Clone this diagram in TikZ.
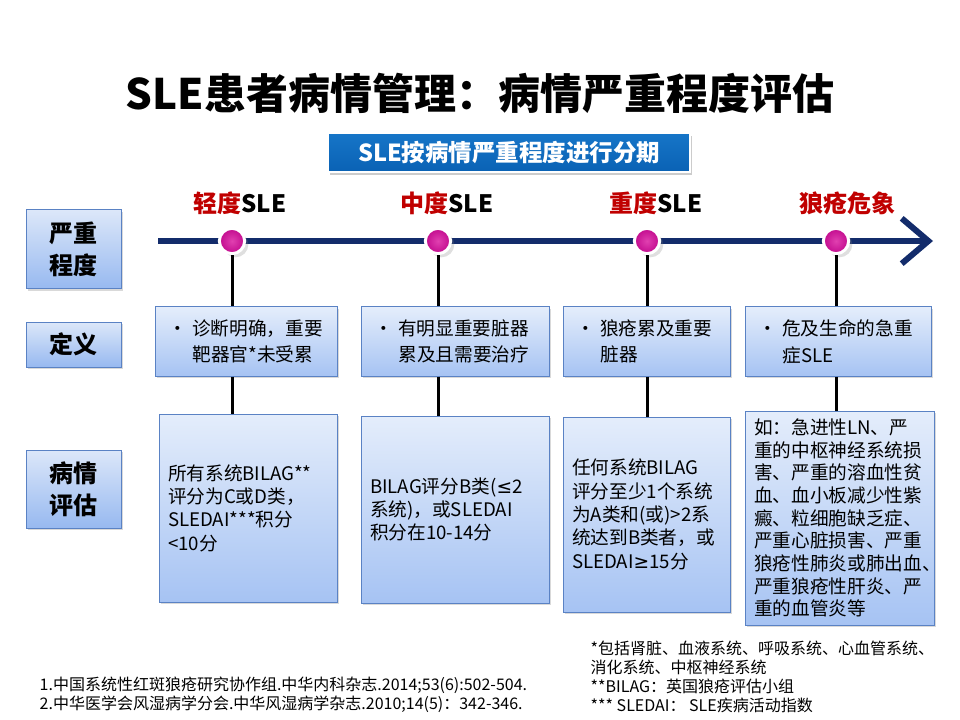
\documentclass[tikz,border=0pt]{standalone}
\usepackage{fontspec}
\setmainfont{Noto Sans CJK SC}
\newfontfamily\symfont{DejaVu Sans}
\usetikzlibrary{arrows.meta, shadows}

\definecolor{navy}{HTML}{132C6B}
\definecolor{sred}{HTML}{C00000}
\definecolor{dotpink}{HTML}{C20A8E}
\definecolor{dotlight}{HTML}{E040B0}
\definecolor{boxedge}{HTML}{5A82C4}
\definecolor{boxtop}{HTML}{E4EDFB}
\definecolor{boxbot}{HTML}{A6C3F3}
\definecolor{headtop}{HTML}{DCE7F9}
\definecolor{headbot}{HTML}{97B9F0}
\definecolor{subtop}{HTML}{1675C8}
\definecolor{subbot}{HTML}{0A62B4}

\begin{document}
\begin{tikzpicture}[
    x=0.75pt, y=-0.75pt, % one unit = one pixel of the slide
    shade/.style={drop shadow={shadow xshift=1.5pt, shadow yshift=-1.5pt, opacity=0.3}},
    rowhead/.style={draw=boxedge, line width=0.75pt, top color=headtop, bottom color=headbot,
      shade, minimum width=71.25pt, align=center, font=\fontsize{18}{24}\selectfont\bfseries}, % Style for row labels
    defbox/.style={draw=boxedge, line width=0.75pt, top color=boxtop, bottom color=boxbot,
      shade, text width=#1, minimum height=51.75pt, inner xsep=10pt, align=left,
      font=\fontsize{14}{20}\selectfont}, % Style for definition boxes
    evalbox/.style={draw=boxedge, line width=0.75pt, top color=boxtop, bottom color=boxbot,
      shade, text width=#1, inner xsep=6.75pt, inner ysep=2pt, align=left,
      font=\fontsize{14}{17.5}\selectfont}, % Style for assessment boxes
    stage/.style={font=\fontsize{18}{22}\selectfont\bfseries}, % Style for stage labels
    dot/.style={circle, minimum size=19pt, inner sep=0pt, draw=white, line width=2.25pt,
      inner color=dotlight, outer color=dotpink, drop shadow={opacity=0.25}},
    link/.style={line width=2.25pt},
    note/.style={align=left, font=\fontsize{12}{14}\selectfont}
  ]
    \useasboundingbox (0,0) rectangle (960,720);

    % Define nodes
    \node (T) at (480,93) {\fontsize{31.5}{36}\selectfont\bfseries SLE患者病情管理：病情严重程度评估};
    \node (ST) at (509,152.5) [top color=subtop, bottom color=subbot, draw=white, line width=2pt,
      minimum width=271.5pt, minimum height=29.25pt, text=white, font=\fontsize{17.6}{20}\selectfont\bfseries,
      drop shadow={shadow xshift=1.5pt, shadow yshift=-2pt, opacity=0.4}] {SLE按病情严重程度进行分期};

    \node (H1) at (73.5,249.5) [rowhead, minimum height=59.25pt] {严重\\程度};
    \node (H2) at (73.5,344.5) [rowhead, minimum height=33.75pt] {定义};
    \node (H3) at (73.5,489)   [rowhead, minimum height=58.5pt]  {病情\\评估};

    \node (S1) at (240,203) [stage] {\textcolor{sred}{轻度}SLE};
    \node (S2) at (447,203) [stage] {\textcolor{sred}{中度}SLE};
    \node (S3) at (656,203) [stage] {\textcolor{sred}{重度}SLE};
    \node (S4) at (847,203) [stage] {\textcolor{sred}{狼疮危象}};

    \coordinate (AS) at (158,241);
    \coordinate (AE) at (933,241);

    \node (D1) at (246,341.5)   [defbox=116.5pt] {\makebox[18pt][l]{•}诊断明确，重要\\\hspace*{18pt}靶器官*未受累};
    \node (D2) at (455,341.5)   [defbox=121pt]   {\makebox[18pt][l]{•}有明显重要脏器\\\hspace*{18pt}累及且需要治疗};
    \node (D3) at (646.5,341.5) [defbox=105.25pt]{\makebox[18pt][l]{•}狼疮累及重要\\\hspace*{18pt}脏器};
    \node (D4) at (838,341.5)   [defbox=119.5pt] {\makebox[18pt][l]{•}危及生命的急重\\\hspace*{18pt}症SLE};

    \node (E1) at (248,508)     [evalbox=120pt, minimum height=141pt]
      {所有系统BILAG**\\评分为C或D类，\\SLEDAI***积分\\<10分};
    \node (E2) at (455,509.5)   [evalbox=127.5pt, minimum height=140.25pt]
      {BILAG评分B类({\symfont ≤}2\\系统)，或SLEDAI\\积分在10-14分};
    \node (E3) at (646.5,514.5) [evalbox=111.75pt, minimum height=146.25pt]
      {任何系统BILAG\\评分至少1个系统\\为A类和(或)>2系\\统达到B类者，或\\SLEDAI{\symfont ≥}15分};
    \node (E4) at (839.5,518)   [evalbox=128.25pt, minimum height=160.5pt, font=\fontsize{14}{17}\selectfont]
      {如：急进性LN、严\\重的中枢神经系统损\\害、严重的溶血性贫\\血、血小板减少性紫\\癜、粒细胞缺乏症、\\严重心脏损害、严重\\狼疮性肺炎或肺出血、\\严重狼疮性肝炎、严\\重的血管炎等};

    \node (N1) at (35,695) [note, anchor=west]
      {1.中国系统性红斑狼疮研究协作组.中华内科杂志.2014;53(6):502-504.\\2.中华医学会风湿病学分会.中华风湿病学杂志.2010;14(5)：342-346.};
    \node (N2) at (586,676.5) [note, anchor=west, font=\fontsize{12}{14.25}\selectfont]
      {*包括肾脏、血液系统、呼吸系统、心血管系统、\\消化系统、中枢神经系统\\**BILAG：英国狼疮评估小组\\*** SLEDAI： SLE疾病活动指数};

    % Draw arrows
    \draw[navy, line width=4.5pt, -{Straight Barb[length=20pt, width=34pt]}] (AS) -- (AE);

    \node (P1) at (232,241) [dot] {};
    \node (P2) at (438,241) [dot] {};
    \node (P3) at (647,241) [dot] {};
    \node (P4) at (836,241) [dot] {};

    \draw[link] (P1.south) -- (P1 |- D1.north);
    \draw[link] (P2.south) -- (P2 |- D2.north);
    \draw[link] (P3.south) -- (P3 |- D3.north);
    \draw[link] (P4.south) -- (P4 |- D4.north);
    \draw[link] (P1 |- D1.south) -- (P1 |- E1.north);
    \draw[link] (P2 |- D2.south) -- (P2 |- E2.north);
    \draw[link] (P3 |- D3.south) -- (P3 |- E3.north);
    \draw[link] (P4 |- D4.south) -- (P4 |- E4.north);
\end{tikzpicture}
\end{document}
